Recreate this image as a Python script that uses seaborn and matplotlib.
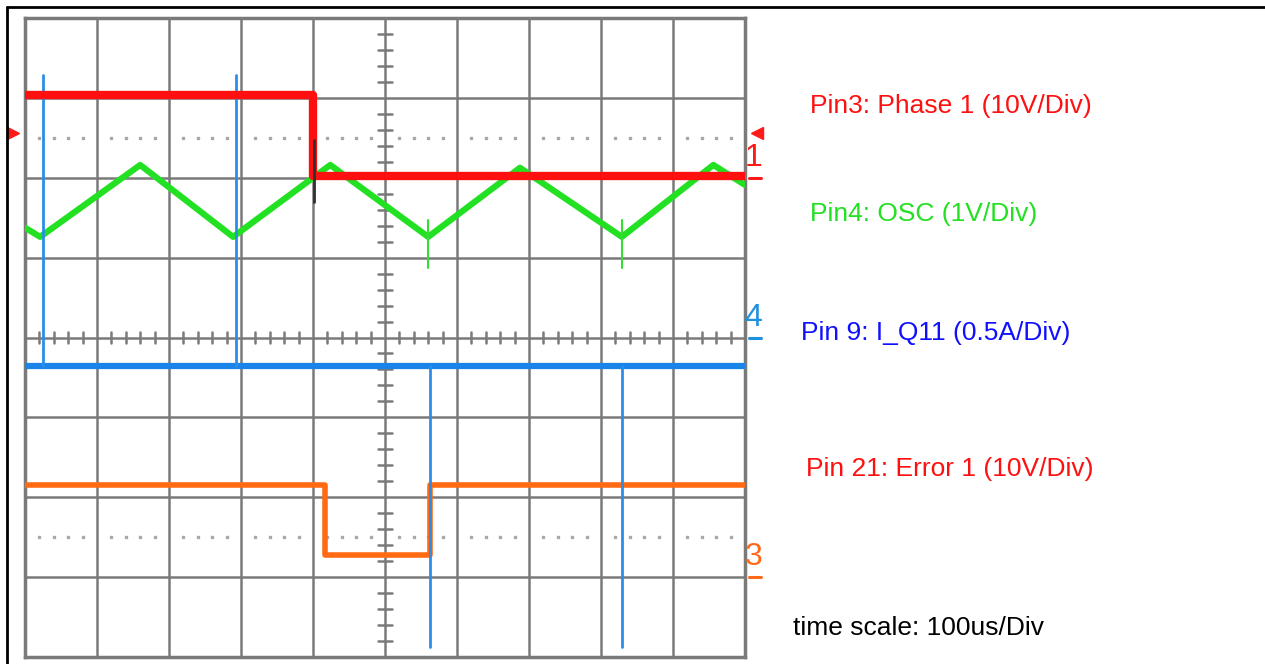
import numpy as np
import pandas as pd
import matplotlib
matplotlib.use("Agg")
import matplotlib.pyplot as plt
import seaborn as sns

# Screen units: 10 horizontal divisions (100us/Div), 8 vertical divisions
# Channel 1 (red) - Pin3 Phase 1, 10V/Div
phase1_t = [0.0, 4.0, 4.0, 10.0]
phase1_v = [3.04, 3.04, 2.02, 2.02]

# Channel 4 (green) - Pin4 OSC triangle, 1V/Div
osc_t = [0.0, 0.21, 1.60, 2.89, 4.24, 5.60, 6.875, 8.29, 9.56, 10.0]
osc_v = [1.375, 1.26, 2.16, 1.26, 2.16, 1.26, 2.125, 1.26, 2.16, 1.91]
osc_glitch_t = [5.60, 8.29]
osc_glitch_lo = [0.875, 0.875]
osc_glitch_hi = [1.475, 1.475]

# Channel 2 (blue) - Pin 9 I_Q11, 0.5A/Div
iq11_t = [0.0, 10.0]
iq11_v = [-0.36, -0.36]
iq11_spike_t = [0.25, 2.93, 5.625, 8.29]
iq11_spike_v = [3.29, 3.29, -3.875, -3.875]

# Channel 3 (orange) - Pin 21 Error 1, 10V/Div
err1_t = [0.0, 4.17, 4.17, 5.625, 5.625, 10.0]
err1_v = [-1.85, -1.85, -2.725, -2.725, -1.85, -1.85]

# Ground reference markers (division levels) at the right edge
ref_labels = ["1", "4", "3"]
ref_levels = [2.0, 0.0, -3.0]
ref_colors = ["#ff1a1a", "#1f8fe0", "#ff6a1a"]

labels = ["Pin3: Phase 1 (10V/Div)", "Pin4: OSC (1V/Div)",
          "Pin 9: I_Q11 (0.5A/Div)", "Pin 21: Error 1 (10V/Div)",
          "time scale: 100us/Div"]
label_colors = ["#ff1010", "#22e022", "#1010ff", "#ff1010", "#000000"]
label_xy = [(810, 106), (810, 214), (801, 333), (806, 469), (793, 628)]

W, H = 1265, 664
sns.set_theme(style="white")
plt.rcParams["font.family"] = ["Liberation Sans", "DejaVu Sans"]

fig = plt.figure(figsize=(W / 100, H / 100), dpi=100)
ax = fig.add_axes([25 / W, 7 / H, 720 / W, 639 / H])
ax.set_xlim(0, 10)
ax.set_ylim(-4, 4)

grid_c = "#7a7a7a"
ax.set_xticks(np.arange(0, 11))
ax.set_yticks(np.arange(-4, 5))
ax.tick_params(length=0, labelbottom=False, labelleft=False)
ax.grid(True, color=grid_c, linewidth=1.8)
for s in ax.spines.values():
    s.set_color(grid_c)
    s.set_linewidth(2.5)

# Minor graduations on the centre axes
for yy in np.arange(-4, 4.01, 0.2):
    if abs(yy - round(yy)) > 1e-6:
        ax.plot([4.9, 5.1], [yy, yy], color=grid_c, lw=1.8, zorder=1)
for xx in np.arange(0, 10.01, 0.2):
    if abs(xx - round(xx)) > 1e-6:
        ax.plot([xx, xx], [-0.075, 0.075], color=grid_c, lw=1.8, zorder=1)
# Dotted lines at +/-2.5 div
for yy in (2.5, -2.5):
    pts = [x for x in np.arange(0, 10.01, 0.2) if abs(x - round(x)) > 1e-6]
    ax.plot(pts, [yy] * len(pts), ls="none", marker="s", ms=1.6,
            color="#a8a8a8", zorder=1)

# Traces
def trace(t, v, color, lw, z=3):
    df = pd.DataFrame({"t": t, "v": v})
    sns.lineplot(data=df, x="t", y="v", ax=ax, color=color, lw=lw,
                 estimator=None, sort=False, zorder=z)

trace(err1_t, err1_v, "#ff6a13", 4.0)
trace(iq11_t, iq11_v, "#1a84e8", 4.5)
for t, v in zip(iq11_spike_t, iq11_spike_v):
    trace([t, t], [-0.36, v], "#2a8ee8", 2.0, z=4)
trace(osc_t, osc_v, "#22e022", 4.5)
for t, lo, hi in zip(osc_glitch_t, osc_glitch_lo, osc_glitch_hi):
    trace([t, t], [lo, hi], "#33dd33", 1.5)
trace([4.02, 4.02], [1.7, 2.47], "#303030", 2.0, z=5)
trace(phase1_t, phase1_v, "#ff1010", 6.0, z=4)
ax.set_xlabel("")
ax.set_ylabel("")

# Channel markers on the right edge
for lab, lvl, col in zip(ref_labels, ref_levels, ref_colors):
    ax.plot([10.05, 10.22], [lvl, lvl], color=col, lw=2.2, clip_on=False)
    ax.text(10.12, lvl + 0.06, lab, color=col, fontsize=23,
            ha="center", va="bottom", clip_on=False)
# trigger level arrows
ax.plot([10.17], [2.56], marker="<", color="#ff1a1a", ms=8, clip_on=False)
ax.plot([-0.17], [2.56], marker=">", color="#ff1a1a", ms=8, clip_on=False)

# Legend text
for txt, col, (px, py) in zip(labels, label_colors, label_xy):
    fig.text(px / W, 1 - py / H, txt, color=col, fontsize=19,
             ha="left", va="center")

# Outer frame
fig.add_artist(plt.Line2D([7 / W, 1], [1 - 7 / H, 1 - 7 / H],
                          color="black", lw=2, transform=fig.transFigure))
fig.add_artist(plt.Line2D([7 / W, 7 / W], [0, 1 - 7 / H],
                          color="black", lw=2, transform=fig.transFigure))

fig.savefig("out.png", dpi=100)
